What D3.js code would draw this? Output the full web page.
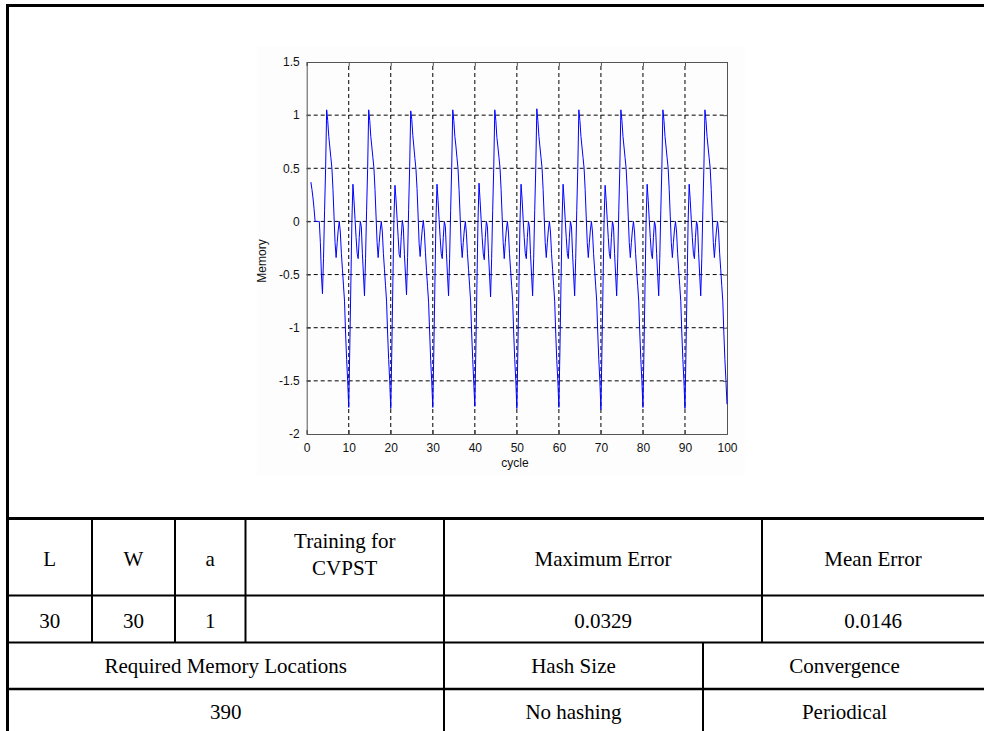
<!DOCTYPE html>
<html><head><meta charset="utf-8">
<script src="https://cdn.jsdelivr.net/npm/d3@7"></script>
<style>body{margin:0;background:#fff;} svg{display:block;}</style>
</head><body>
<svg id="c" width="984" height="731"></svg>
<script>
// ---------- data ----------
const xTicks = [0,10,20,30,40,50,60,70,80,90,100];
const yTicks = [-2,-1.5,-1,-0.5,0,0.5,1,1.5];
const xLabel = "cycle";
const yLabel = "Memory";
const cycleStart = 1, cycleStep = 0.25;   // sample grid of the recorded series
const memory = [
  // cycles 1 – 9.75
  0.37,0.3,0.22,0.12,0,0,0,0,0,-0.2,-0.5,-0.68,-0.35,0.1,0.5,1.05,0.95,0.8,0.7,0.6,0.5,0.3,0.05,-0.2,-0.34,-0.2,-0.08,0,-0.1,-0.3,-0.45,-0.6,-0.75,-1.05,-1.3,-1.5,
  // 10 – 19.75
  -1.75,-1.2,-0.6,0,0.35,0.2,0.02,-0.15,-0.3,-0.35,-0.15,0,-0.05,-0.3,-0.5,-0.7,-0.35,0.1,0.5,1.05,0.95,0.8,0.7,0.6,0.5,0.3,0.05,-0.2,-0.34,-0.2,-0.08,0,-0.1,-0.3,-0.45,-0.6,-0.75,-1.05,-1.3,-1.5,
  // 20 – 29.75
  -1.76,-1.22,-0.58,0.02,0.34,0.21,0.03,-0.14,-0.31,-0.34,-0.14,0.01,-0.06,-0.31,-0.5,-0.69,-0.34,0.11,0.52,1.04,0.96,0.81,0.7,0.59,0.49,0.31,0.06,-0.21,-0.33,-0.19,-0.07,0.01,-0.1,-0.29,-0.46,-0.61,-0.76,-1.04,-1.31,-1.51,
  // 30 – 39.75
  -1.75,-1.21,-0.59,0.01,0.35,0.2,0.02,-0.15,-0.3,-0.35,-0.15,0,-0.05,-0.3,-0.51,-0.7,-0.35,0.1,0.51,1.05,0.95,0.8,0.71,0.6,0.5,0.3,0.05,-0.2,-0.34,-0.2,-0.08,0,-0.11,-0.3,-0.45,-0.6,-0.75,-1.05,-1.3,-1.52,
  // 40 – 49.75
  -1.74,-1.2,-0.6,0,0.36,0.2,0.02,-0.15,-0.3,-0.36,-0.15,0,-0.05,-0.3,-0.5,-0.71,-0.35,0.1,0.5,1.05,0.95,0.79,0.7,0.6,0.5,0.3,0.05,-0.2,-0.35,-0.2,-0.08,0,-0.1,-0.3,-0.45,-0.6,-0.74,-1.05,-1.3,-1.5,
  // 50 – 59.75
  -1.76,-1.2,-0.6,0,0.35,0.21,0.02,-0.15,-0.3,-0.35,-0.15,0,-0.05,-0.31,-0.5,-0.7,-0.35,0.1,0.5,1.06,0.95,0.8,0.7,0.6,0.5,0.3,0.05,-0.2,-0.34,-0.2,-0.08,0,-0.1,-0.3,-0.45,-0.6,-0.75,-1.05,-1.31,-1.5,
  // 60 – 69.75
  -1.75,-1.21,-0.6,0,0.35,0.2,0.02,-0.15,-0.3,-0.35,-0.15,0,-0.05,-0.3,-0.5,-0.7,-0.35,0.1,0.5,1.05,0.95,0.8,0.7,0.6,0.5,0.3,0.05,-0.2,-0.34,-0.2,-0.08,0,-0.1,-0.3,-0.45,-0.6,-0.75,-1.05,-1.3,-1.5,
  // 70 – 79.75
  -1.77,-1.2,-0.6,0,0.34,0.2,0.02,-0.15,-0.3,-0.35,-0.15,0,-0.05,-0.3,-0.5,-0.7,-0.35,0.1,0.5,1.05,0.95,0.8,0.7,0.6,0.5,0.3,0.05,-0.2,-0.34,-0.2,-0.08,0,-0.1,-0.3,-0.45,-0.6,-0.75,-1.05,-1.3,-1.5,
  // 80 – 89.75
  -1.75,-1.2,-0.6,0,0.35,0.2,0.02,-0.15,-0.3,-0.35,-0.15,0,-0.05,-0.3,-0.5,-0.7,-0.35,0.1,0.5,1.05,0.95,0.8,0.7,0.6,0.5,0.3,0.05,-0.2,-0.34,-0.2,-0.08,0,-0.1,-0.3,-0.45,-0.6,-0.75,-1.05,-1.3,-1.5,
  // 90 – 99.75
  -1.76,-1.2,-0.6,0,0.35,0.2,0.02,-0.15,-0.3,-0.35,-0.15,0,-0.05,-0.3,-0.5,-0.7,-0.35,0.1,0.5,1.05,0.95,0.8,0.7,0.6,0.5,0.3,0.05,-0.2,-0.34,-0.2,-0.08,0,-0.1,-0.3,-0.45,-0.6,-0.75,-1.05,-1.3,-1.5,
  // 100
  -1.72
];

// table contents
const headerCells = [["L"],["W"],["a"],["Training for","CVPST"],["Maximum Error"],["Mean Error"]];
const valueCells  = ["30","30","1","","0.0329","0.0146"];
const footHeaders = ["Required Memory Locations","Hash Size","Convergence"];
const footValues  = ["390","No hashing","Periodical"];

// ---------- layout ----------
const svg = d3.select("#c");
const colsTop = [7.5, 92, 175, 245.5, 444, 762, 992];
const colsBot = [7.5, 444, 703, 992];
const serif = "'Liberation Serif','Times New Roman',serif";
const sans = "'Liberation Sans',Arial,Helvetica,sans-serif";

// chart image background
svg.append("rect").attr("x",257).attr("y",47).attr("width",488).attr("height",429).attr("fill","#fdfdfd");

// ---------- chart ----------
const x = d3.scaleLinear().domain([0,100]).range([306.7,727]);
const y = d3.scaleLinear().domain([-2,1.5]).range([434,62]);
const g = svg.append("g");

// grid
g.append("g").selectAll("line").data(xTicks.slice(1,-1)).join("line")
  .attr("x1",d=>x(d)).attr("x2",d=>x(d)).attr("y1",y(-2)).attr("y2",y(1.5))
  .attr("stroke","#000").attr("stroke-width",1).attr("stroke-dasharray","4,3");
g.append("g").selectAll("line").data(yTicks.slice(1,-1)).join("line")
  .attr("x1",x(0)).attr("x2",x(100)).attr("y1",d=>y(d)).attr("y2",d=>y(d))
  .attr("stroke","#000").attr("stroke-width",1).attr("stroke-dasharray","4,3");

// axes with inward ticks
const axB = d3.axisBottom(x).tickValues(xTicks).tickSize(-4).tickPadding(9).tickFormat(d3.format("d"));
const axL = d3.axisLeft(y).tickValues(yTicks).tickSize(-4).tickPadding(7).tickFormat(d=>String(d));
const axT = d3.axisTop(x).tickValues(xTicks).tickSize(-4).tickFormat("");
const axR = d3.axisRight(y).tickValues(yTicks).tickSize(-4).tickFormat("");
function styleAxis(sel){
  sel.selectAll("path").attr("stroke","#555");
  sel.selectAll("line").attr("stroke","#555");
  sel.selectAll("text").attr("fill","#111").attr("font-family",sans).attr("font-size",12);
}
g.append("g").attr("transform",`translate(0,${y(-2)})`).call(axB).call(styleAxis);
g.append("g").attr("transform",`translate(${x(0)},0)`).call(axL).call(styleAxis);
g.append("g").attr("transform",`translate(0,${y(1.5)})`).call(axT).call(styleAxis);
g.append("g").attr("transform",`translate(${x(100)},0)`).call(axR).call(styleAxis);

// series
const line = d3.line().x((d,i)=>x(cycleStart + i*cycleStep)).y(d=>y(d));
g.append("path").datum(memory).attr("d",line)
  .attr("fill","none").attr("stroke","#0000ff").attr("stroke-width",1);

// labels
g.append("text").attr("x",515).attr("y",467).attr("text-anchor","middle")
  .attr("font-family",sans).attr("font-size",12).attr("fill","#111").text(xLabel);
g.append("text").attr("transform","translate(266,261) rotate(-90)").attr("text-anchor","middle")
  .attr("font-family",sans).attr("font-size",12).attr("fill","#111").text(yLabel);

// ---------- table ----------
const T = svg.append("g");
function hline(y0,x0,x1,w){T.append("line").attr("x1",x0).attr("x2",x1).attr("y1",y0).attr("y2",y0).attr("stroke","#000").attr("stroke-width",w);}
function vline(x0,y0,y1,w){T.append("line").attr("x1",x0).attr("x2",x0).attr("y1",y0).attr("y2",y1).attr("stroke","#000").attr("stroke-width",w);}
hline(5.5,6,992,3);
vline(7.5,4,745,3);
hline(518.5,6,992,3);
hline(595.5,6,992,2);
hline(642.5,6,992,2);
hline(689,6,992,2.5);
colsTop.slice(1,-1).forEach(cx=>vline(cx,518.5,642.5,2));
colsBot.slice(1,-1).forEach(cx=>vline(cx,642.5,745,2));

function cellText(cx,by,t){
  T.append("text").attr("x",cx).attr("y",by).attr("text-anchor","middle")
   .attr("font-family",serif).attr("font-size",21).attr("fill","#000").text(t);
}
headerCells.forEach((lines,i)=>{
  const cx=(colsTop[i]+colsTop[i+1])/2 + (i===5?-4:0);
  if(lines.length===1) cellText(cx,566,lines[0]);
  else { cellText(cx,548,lines[0]); cellText(cx,575,lines[1]); }
});
valueCells.forEach((t,i)=>{
  const cx=(colsTop[i]+colsTop[i+1])/2 + (i===5?-4:0);
  if(t) cellText(cx,628,t);
});
footHeaders.forEach((t,i)=>cellText((colsBot[i]+colsBot[i+1])/2 - (i===2?3:0),673,t));
footValues.forEach((t,i)=>cellText((colsBot[i]+colsBot[i+1])/2 - (i===2?3:0),719,t));
</script>
</body></html>
